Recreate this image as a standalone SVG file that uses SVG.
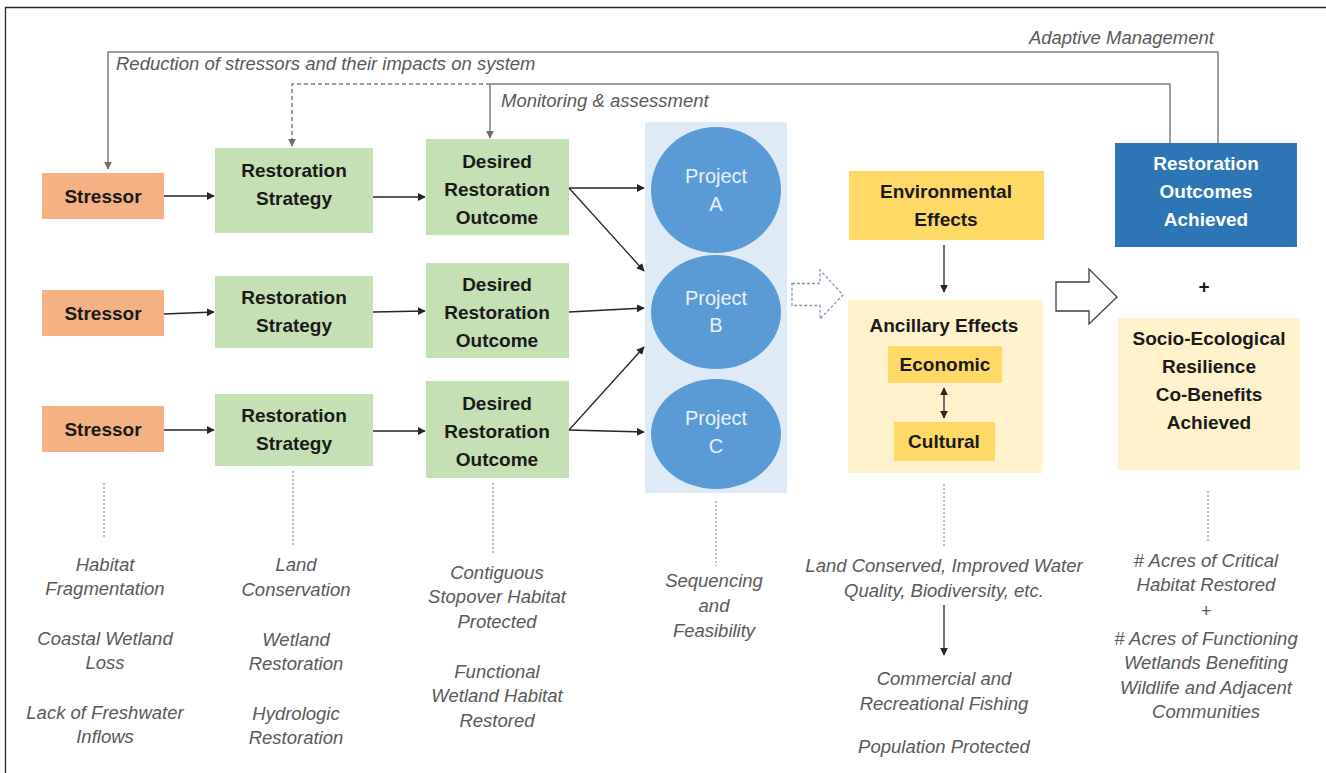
<svg xmlns="http://www.w3.org/2000/svg" width="1326" height="773" viewBox="0 0 1326 773">
  <defs>
    <style>
      .box-text { font-family: "Liberation Sans", Arial, sans-serif; font-weight: bold; font-size: 19px; fill: #1a1a1a; text-anchor: middle; }
      .white-text { font-family: "Liberation Sans", Arial, sans-serif; font-weight: bold; font-size: 19px; fill: #ffffff; text-anchor: middle; }
      .proj-text { font-family: "Liberation Sans", Arial, sans-serif; font-size: 20px; fill: #e8f1fa; text-anchor: middle; }
      .note { font-family: "Liberation Sans", Arial, sans-serif; font-style: italic; font-size: 18.5px; fill: #595959; text-anchor: middle; }
      .label { font-family: "Liberation Sans", Arial, sans-serif; font-style: italic; font-size: 18.5px; fill: #595959; }
      .stressor { fill: #F4B183; }
      .strategy { fill: #C5E0B4; }
      .project { fill: #5B9BD5; }
      .feedback { fill: none; stroke: #7f7f7f; stroke-width: 1.5; }
      .flow { fill: none; stroke: #262626; stroke-width: 1.3; }
      .guide { fill: none; stroke: #7f7f7f; stroke-width: 1; stroke-dasharray: 2 2; }
    </style>
    <marker id="arrow" viewBox="0 0 10 10" refX="9" refY="5" markerWidth="8" markerHeight="8" orient="auto" markerUnits="userSpaceOnUse">
      <path d="M0,0 L10,5 L0,10 z" fill="#262626"/>
    </marker>
    <marker id="arrow-grey" viewBox="0 0 10 10" refX="9" refY="5" markerWidth="8" markerHeight="8" orient="auto" markerUnits="userSpaceOnUse">
      <path d="M0,0 L10,5 L0,10 z" fill="#6f6f6f"/>
    </marker>
    <marker id="arrow-start" viewBox="0 0 10 10" refX="1" refY="5" markerWidth="8" markerHeight="8" orient="auto" markerUnits="userSpaceOnUse">
      <path d="M10,0 L0,5 L10,10 z" fill="#262626"/>
    </marker>
  </defs>

  <rect x="0" y="0" width="1326" height="773" fill="#ffffff"/>
  <!-- outer frame (left and top edges) -->
  <path d="M5.5,773 L5.5,7.5 L1326,7.5" fill="none" stroke="#262626" stroke-width="1.3"/>

  <!-- feedback labels -->
  <text class="label" x="1214" y="44" text-anchor="end">Adaptive Management</text>
  <text class="label" x="116" y="70">Reduction of stressors and their impacts on system</text>
  <text class="label" x="501" y="107">Monitoring &amp; assessment</text>

  <!-- project column background -->
  <rect id="project-band" x="645" y="122" width="142" height="371" fill="#DEEBF7"/>

  <!-- stressors -->
  <g id="stressor-1"><rect class="stressor" x="42" y="173" width="122" height="46"/><text class="box-text" x="103" y="203">Stressor</text></g>
  <g id="stressor-2"><rect class="stressor" x="42" y="290" width="122" height="46"/><text class="box-text" x="103" y="320">Stressor</text></g>
  <g id="stressor-3"><rect class="stressor" x="42" y="406" width="122" height="46"/><text class="box-text" x="103" y="436">Stressor</text></g>

  <!-- restoration strategies -->
  <g id="strategy-1"><rect class="strategy" x="215" y="148" width="158" height="85"/><text class="box-text" x="294" y="177">Restoration</text><text class="box-text" x="294" y="205">Strategy</text></g>
  <g id="strategy-2"><rect class="strategy" x="215" y="276" width="158" height="72"/><text class="box-text" x="294" y="304">Restoration</text><text class="box-text" x="294" y="332">Strategy</text></g>
  <g id="strategy-3"><rect class="strategy" x="215" y="394" width="158" height="72"/><text class="box-text" x="294" y="422">Restoration</text><text class="box-text" x="294" y="450">Strategy</text></g>

  <!-- desired outcomes -->
  <g id="outcome-1"><rect class="strategy" x="426" y="139" width="143" height="96"/><text class="box-text" x="497" y="168">Desired</text><text class="box-text" x="497" y="196">Restoration</text><text class="box-text" x="497" y="224">Outcome</text></g>
  <g id="outcome-2"><rect class="strategy" x="426" y="263" width="143" height="95"/><text class="box-text" x="497" y="291">Desired</text><text class="box-text" x="497" y="319">Restoration</text><text class="box-text" x="497" y="347">Outcome</text></g>
  <g id="outcome-3"><rect class="strategy" x="426" y="381" width="143" height="97"/><text class="box-text" x="497" y="410">Desired</text><text class="box-text" x="497" y="438">Restoration</text><text class="box-text" x="497" y="466">Outcome</text></g>

  <!-- projects -->
  <g id="project-a"><ellipse class="project" cx="716" cy="190" rx="65" ry="63"/><text class="proj-text" x="716" y="183">Project</text><text class="proj-text" x="716" y="211">A</text></g>
  <g id="project-b"><ellipse class="project" cx="716" cy="312" rx="65" ry="57"/><text class="proj-text" x="716" y="305">Project</text><text class="proj-text" x="716" y="332">B</text></g>
  <g id="project-c"><ellipse class="project" cx="716" cy="434" rx="65" ry="55"/><text class="proj-text" x="716" y="425">Project</text><text class="proj-text" x="716" y="453">C</text></g>

  <!-- effects -->
  <g id="environmental-effects"><rect x="849" y="171" width="195" height="69" fill="#FFD966"/><text class="box-text" x="946" y="198">Environmental</text><text class="box-text" x="946" y="226">Effects</text></g>
  <g id="ancillary-effects">
    <rect x="848" y="300" width="195" height="173" fill="#FFF2CC"/>
    <text class="box-text" x="944" y="332">Ancillary Effects</text>
  </g>
  <g id="economic"><rect x="888" y="346" width="114" height="37" fill="#FFD966"/><text class="box-text" x="945" y="371">Economic</text></g>
  <g id="cultural"><rect x="894" y="422" width="101" height="39" fill="#FFD966"/><text class="box-text" x="944" y="448">Cultural</text></g>

  <!-- results -->
  <g id="outcomes-achieved"><rect x="1115" y="143" width="182" height="104" fill="#2E75B6"/><text class="white-text" x="1206" y="170">Restoration</text><text class="white-text" x="1206" y="198">Outcomes</text><text class="white-text" x="1206" y="226">Achieved</text></g>
  <text class="box-text" x="1204" y="293" font-size="24">+</text>
  <g id="co-benefits"><rect x="1118" y="318" width="182" height="152" fill="#FFF2CC"/><text class="box-text" x="1209" y="345">Socio-Ecological</text><text class="box-text" x="1209" y="373">Resilience</text><text class="box-text" x="1209" y="401">Co-Benefits</text><text class="box-text" x="1209" y="429">Achieved</text></g>

  <g id="connectors">
    <!-- adaptive management loop -->
    <path class="feedback" d="M1218,143 L1218,52 L108,52 L108,169" marker-end="url(#arrow-grey)"/>
    <!-- monitoring loop -->
    <path class="feedback" d="M1170,143 L1170,84 L490,84 L490,138" marker-end="url(#arrow-grey)"/>
    <path class="feedback" d="M490,84 L292,84 L292,146" stroke-dasharray="4 3" marker-end="url(#arrow-grey)"/>

    <!-- row 1 -->
    <line class="flow" x1="164" y1="196" x2="214" y2="196" marker-end="url(#arrow)"/>
    <line class="flow" x1="373" y1="197" x2="425" y2="197" marker-end="url(#arrow)"/>
    <line class="flow" x1="569" y1="188" x2="644" y2="188" marker-end="url(#arrow)"/>
    <line class="flow" x1="569" y1="188" x2="644" y2="271" marker-end="url(#arrow)"/>
    <!-- row 2 -->
    <line class="flow" x1="164" y1="314" x2="214" y2="312" marker-end="url(#arrow)"/>
    <line class="flow" x1="373" y1="312" x2="425" y2="311" marker-end="url(#arrow)"/>
    <line class="flow" x1="569" y1="312" x2="644" y2="308" marker-end="url(#arrow)"/>
    <!-- row 3 -->
    <line class="flow" x1="164" y1="430" x2="214" y2="430" marker-end="url(#arrow)"/>
    <line class="flow" x1="373" y1="431" x2="425" y2="431" marker-end="url(#arrow)"/>
    <line class="flow" x1="569" y1="430" x2="644" y2="432" marker-end="url(#arrow)"/>
    <line class="flow" x1="569" y1="430" x2="644" y2="347" marker-end="url(#arrow)"/>

    <!-- environmental to ancillary -->
    <line class="flow" x1="944" y1="245" x2="944" y2="292" marker-end="url(#arrow)"/>
    <!-- economic / cultural -->
    <line class="flow" x1="944" y1="388" x2="944" y2="418" marker-start="url(#arrow-start)" marker-end="url(#arrow)"/>
    <!-- ancillary outcomes -->
    <line class="flow" x1="944" y1="605" x2="944" y2="655" marker-end="url(#arrow)"/>

    <!-- block arrows -->
    <path d="M792,283.5 L820,283.5 L820,270 L843,295 L820,319 L820,305.5 L792,305.5 Z" fill="#ffffff" stroke="#8497b0" stroke-width="1.3" stroke-dasharray="3 2"/>
    <path d="M1056,282 L1089,282 L1089,269 L1117,297 L1089,324 L1089,311 L1056,311 Z" fill="#ffffff" stroke="#404040" stroke-width="1.3"/>

    <!-- guide lines to notes -->
    <line class="guide" x1="104" y1="483" x2="104" y2="537"/>
    <line class="guide" x1="293" y1="471" x2="293" y2="545"/>
    <line class="guide" x1="493" y1="483" x2="493" y2="555"/>
    <line class="guide" x1="716" y1="501" x2="716" y2="566"/>
    <line class="guide" x1="944" y1="484" x2="944" y2="548"/>
    <line class="guide" x1="1208" y1="491" x2="1208" y2="542"/>
  </g>

  <!-- notes -->
  <g id="stressor-notes">
    <text class="note" x="105" y="571">Habitat</text>
    <text class="note" x="105" y="595">Fragmentation</text>
    <text class="note" x="105" y="645">Coastal Wetland</text>
    <text class="note" x="105" y="669">Loss</text>
    <text class="note" x="105" y="719">Lack of Freshwater</text>
    <text class="note" x="105" y="743">Inflows</text>
  </g>
  <g id="strategy-notes">
    <text class="note" x="296" y="571">Land</text>
    <text class="note" x="296" y="596">Conservation</text>
    <text class="note" x="296" y="646">Wetland</text>
    <text class="note" x="296" y="670">Restoration</text>
    <text class="note" x="296" y="720">Hydrologic</text>
    <text class="note" x="296" y="744">Restoration</text>
  </g>
  <g id="outcome-notes">
    <text class="note" x="497" y="579">Contiguous</text>
    <text class="note" x="497" y="603">Stopover Habitat</text>
    <text class="note" x="497" y="628">Protected</text>
    <text class="note" x="497" y="678">Functional</text>
    <text class="note" x="497" y="702">Wetland Habitat</text>
    <text class="note" x="497" y="727">Restored</text>
  </g>
  <g id="project-notes">
    <text class="note" x="714" y="587">Sequencing</text>
    <text class="note" x="714" y="612">and</text>
    <text class="note" x="714" y="637">Feasibility</text>
  </g>
  <g id="effect-notes">
    <text class="note" x="944" y="572">Land Conserved, Improved Water</text>
    <text class="note" x="944" y="597">Quality, Biodiversity, etc.</text>
    <text class="note" x="944" y="685">Commercial and</text>
    <text class="note" x="944" y="710">Recreational Fishing</text>
    <text class="note" x="944" y="753">Population Protected</text>
  </g>
  <g id="result-notes">
    <text class="note" x="1206" y="567"># Acres of Critical</text>
    <text class="note" x="1206" y="591">Habitat Restored</text>
    <text class="note" x="1206" y="617">+</text>
    <text class="note" x="1206" y="645"># Acres of Functioning</text>
    <text class="note" x="1206" y="669">Wetlands Benefiting</text>
    <text class="note" x="1206" y="694">Wildlife and Adjacent</text>
    <text class="note" x="1206" y="718">Communities</text>
  </g>
</svg>
